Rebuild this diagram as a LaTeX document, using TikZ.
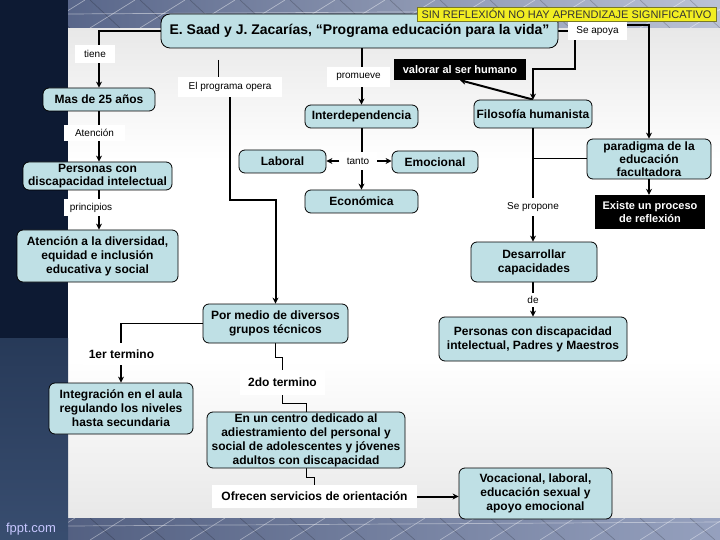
\documentclass[tikz,border=0pt]{standalone}
\usepackage{fontspec}
\setmainfont{Liberation Sans}
\usetikzlibrary{arrows.meta,calc}
\definecolor{boxblue}{RGB}{191,224,229}
\definecolor{navyband}{RGB}{13,26,51}
\definecolor{slateband}{RGB}{46,68,104}
\definecolor{bandblue}{RGB}{104,120,162}
\definecolor{banyellow}{RGB}{242,238,34}
\definecolor{banedge}{RGB}{120,120,40}
\pgfdeclarelayer{bgl}
\pgfdeclarelayer{edges}
\pgfsetlayers{bgl,edges,main}
\newcommand\myfs[2]{\fontsize{#1}{#2}\selectfont}
\begin{document}
\begin{tikzpicture}[x=1pt,y=-1pt,
  box/.style={draw=black, line width=0.8pt, rounded corners=6pt, fill=boxblue,
    font=\myfs{12}{14}\bfseries, align=center, inner sep=0pt},
  lbl/.style={fill=white, font=\myfs{10}{12}, inner sep=0pt},
  blbl/.style={fill=white, font=\myfs{12}{14}\bfseries, inner sep=0pt},
  blk/.style={fill=black, text=white, font=\myfs{11}{13}\bfseries, align=center, inner sep=0pt},
  sz/.style 2 args={minimum width=#1, minimum height=#2},
  arr/.style={line width=2pt, -{Stealth[length=6pt,width=6pt]}},
  ln/.style={line width=2pt},
  tln/.style={line width=1pt}]
\useasboundingbox (0,0) rectangle (720,540);

% ---------- background ----------
\begin{pgfonlayer}{bgl}
\fill[white] (0,0) rectangle (720,540);
\shade[top color=black!9, bottom color=white] (68,28) rectangle (720,160);
\shade[top color=white, bottom color=black!9] (68,360) rectangle (720,518);
\shade[left color=bandblue!85!black, right color=bandblue!45!white] (68,0) rectangle (720,28);
\shade[left color=bandblue!80!black, right color=bandblue!70!white] (68,518) rectangle (720,540);
\begin{scope}
  \clip (68,0) rectangle (720,28);
  \foreach \i in {40,90,...,760} {
    \draw[white, opacity=0.45, line width=0.7pt] (\i,28) -- (\i+45,0);
    \draw[black, opacity=0.2, line width=0.7pt] (\i,0) -- (\i+30,28);
  }
  \draw[white, opacity=0.45, line width=0.7pt] (68,14) -- (720,10);
\end{scope}
\begin{scope}
  \clip (68,518) rectangle (720,540);
  \foreach \i in {40,90,...,760} {
    \draw[white, opacity=0.4, line width=0.7pt] (\i,540) -- (\i+35,518);
    \draw[black, opacity=0.2, line width=0.7pt] (\i,518) -- (\i+25,540);
  }
  \draw[white, opacity=0.4, line width=0.7pt] (68,526) -- (720,522);
\end{scope}
\fill[navyband] (0,0) rectangle (68,338);
\shade[top color=slateband!85!black, bottom color=slateband!95!white] (0,338) rectangle (68,540);
\end{pgfonlayer}
\node[text=white!78!blue, font=\myfs{13}{15}] (fppt) at (31,529) {fppt.com};

% ---------- nodes ----------
\node[box, rounded corners=9pt, sz={397}{34}, font=\myfs{14}{16}\bfseries] (title) at (359.5,31)
  {E. Saad y J. Zacarías, “Programa educación para la vida”};
\node[draw=banedge, line width=0.6pt, fill=banyellow, text=black!80, font=\myfs{11}{12},
  inner sep=0pt, sz={299}{14}] (banner) at (566.5,14) {SIN REFLEXIÓN NO HAY APRENDIZAJE SIGNIFICATIVO};
\node[lbl, sz={59}{18}] (seapoya) at (597.5,31) {Se apoya};

\node[lbl, sz={40}{18}] (tiene) at (95,54) {tiene};
\node[box, sz={112}{23}] (mas) at (99,99.5) {Mas de 25 años};
\node[lbl, sz={61}{16}] (atlbl) at (94.5,133) {Atención};
\node[box, sz={149}{28}, font=\myfs{12}{13}\bfseries] (personas) at (97.5,176) {Personas con\\discapacidad intelectual};
\node[lbl, sz={54}{17}] (principios) at (91,208) {principios};
\node[box, sz={161}{52}] (atbox) at (97.5,256) {Atención a la diversidad,\\equidad e inclusión\\educativa y social};

\coordinate (stub) at (218,60);
\node[lbl, sz={104}{20}] (prog) at (230,87) {El programa opera};
\node[lbl, sz={63}{20}] (promueve) at (358.5,77) {promueve};
\node[box, sz={113}{23}] (inter) at (361.5,116.5) {Interdependencia};
\node[lbl, sz={37}{18}] (tanto) at (358,161) {tanto};
\node[box, sz={87}{23}] (laboral) at (282.5,161.5) {Laboral};
\node[box, sz={86}{22}] (emocional) at (435,162) {Emocional};
\node[box, sz={113}{23}] (econ) at (361.5,201.5) {Económica};

\node[blk, sz={132}{21}] (valorar) at (460,69.5) {valorar al ser humano};
\node[box, sz={118}{28}] (filo) at (533,114) {Filosofía humanista};
\node[lbl, sz={67}{18}] (separ) at (533,207) {Se propone};
\node[box, sz={124}{40}, font=\myfs{12}{13}\bfseries] (paradigma) at (649,159) {paradigma de la\\educación\\facultadora};
\node[blk, sz={110}{34}] (existe) at (650,212) {Existe un proceso\\de reflexión};
\node[box, sz={126}{40}] (desarrollar) at (534,262) {Desarrollar\\capacidades};
\node[lbl, sz={20}{14}] (de) at (533,300) {de};
\node[box, sz={188}{44}] (personas2) at (533,339) {Personas con discapacidad\\intelectual, Padres y Maestros};

\node[box, sz={145}{39}] (pormedio) at (275.5,323.5) {Por medio de diversos\\grupos técnicos};
\node[blbl, sz={77}{22}] (primer) at (121.5,354) {1er termino};
\node[box, sz={144}{51}] (integracion) at (121,408.5) {Integración en el aula\\regulando los niveles\\hasta secundaria};
\node[blbl, sz={85}{25}] (segundo) at (282.5,382.5) {2do termino};
\node[box, sz={198}{56}] (centro) at (306,440) {En un centro dedicado al\\adiestramiento del personal y\\social de adolescentes y jóvenes\\adultos con discapacidad};
\node[blbl, sz={205}{23}] (ofrecen) at (314.5,496.5) {Ofrecen servicios de orientación};
\node[box, sz={153}{51}] (vocacional) at (535.5,493.5) {Vocacional, laboral,\\educación sexual y\\apoyo emocional};

% ---------- connectors ----------
\begin{pgfonlayer}{edges}
\draw[ln] (title.east) -- (seapoya.west);
\draw[arr] ($(seapoya.south west)+(7,0)$) -- ++(0,29) -| (filo.north);
\draw[arr] ($(seapoya.north east)+(0,3)$) -| (paradigma.north);
\draw[arr] (title.west) -| (mas.north);
\draw[arr] (mas.south) -- (mas.south |- personas.north);
\draw[arr] (mas.south |- personas.south) -- (mas.south |- atbox.north);
\draw[tln] (stub) -- (stub |- prog.north);
\draw[arr] (prog.south) -- ++(0,103) -| (pormedio.north);
\draw[arr] (inter.north |- title.south) -- (inter.north);
\draw[arr] (inter.south) -- (econ.north);
\draw[arr] (tanto.west) -- (tanto.west -| laboral.east);
\draw[arr] (tanto.east) -- (tanto.east -| emocional.west);
\draw[arr] (filo.north) -- (valorar.south);
\draw[arr] (filo.south) -- (filo.south |- desarrollar.north);
\draw[tln] (paradigma.west) -- (paradigma.west -| filo.south);
\draw[arr] (paradigma.south) -- (paradigma.south |- existe.north);
\draw[arr] (desarrollar.south -| de.center) -- (de.center |- personas2.north);
\draw[arr, line width=1.5pt] (pormedio.west) -| (integracion.north);
\draw[tln] (pormedio.south) -- ++(0,14) -| (segundo.north);
\draw[tln] (segundo.south) -- ++(0,8) -| (centro.north);
\draw[tln] (centro.south) -- ++(0,9) -| (ofrecen.north);
\draw[arr] (ofrecen.east) -- (ofrecen.east -| vocacional.west);
\end{pgfonlayer}
\end{tikzpicture}
\end{document}
